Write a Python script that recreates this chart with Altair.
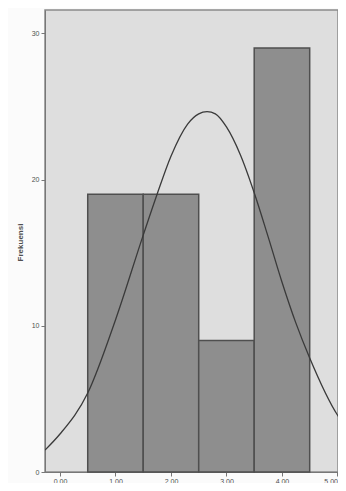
import altair as alt
import pandas as pd

# Histogram bins
bin_start = [0.5, 1.5, 2.5, 3.5]
bin_end = [1.5, 2.5, 3.5, 4.5]
counts = [19, 19, 9, 29]

# Normal curve points
curve_x = [-0.27, 0.0, 0.5, 1.0, 1.5, 1.75, 2.0, 2.3, 2.5, 2.65, 2.8, 3.0, 3.25, 3.5, 3.75, 4.0, 4.25, 4.5, 5.0, 5.15]
curve_y = [1.5, 2.6, 5.4, 10.4, 16.2, 19.0, 21.6, 23.8, 24.5, 24.65, 24.5, 23.6, 21.7, 19.1, 16.1, 13.0, 10.2, 7.8, 3.9, 3.1]

x_ticks = [0, 1, 2, 3, 4, 5]
y_ticks = [0, 10, 20, 30]

bars_df = pd.DataFrame({"start": bin_start, "end": bin_end, "count": counts})
curve_df = pd.DataFrame({"x": curve_x, "y": curve_y})

xscale = alt.Scale(domain=[-0.27, 5.01], nice=False, zero=False)
yscale = alt.Scale(domain=[0, 31.6], nice=False)

xaxis = alt.Axis(values=x_ticks, format=".2f", title=None, grid=False,
                 labelFont="Liberation Sans", labelFontSize=7, labelColor="#505050",
                 tickColor="#777777", tickSize=4, domainColor="#777777", labelPadding=1,
                 labelOverlap=False, labelBound=False, labelFlush=True)
yaxis = alt.Axis(values=y_ticks, title="Frekuensi", grid=False,
                 labelFont="Liberation Sans", labelFontSize=7, labelColor="#505050",
                 tickColor="#777777", tickSize=4, domainColor="#777777", labelPadding=2,
                 titleFont="Liberation Sans", titleFontSize=8, titleFontWeight="bold",
                 titleColor="#505050", titleX=-21, titleY=232, titleAlign="center")

bars = alt.Chart(bars_df).mark_rect(
    fill="#8e8e8e", stroke="#4f4f4f", strokeWidth=1.5
).encode(
    x=alt.X("start:Q", scale=xscale, axis=xaxis),
    x2="end:Q",
    y=alt.Y("count:Q", scale=yscale, axis=yaxis),
    y2=alt.datum(0),
)

curve = alt.Chart(curve_df).mark_line(
    color="#3a3a3a", strokeWidth=1.3, interpolate="monotone", clip=True
).encode(
    x=alt.X("x:Q", scale=xscale),
    y=alt.Y("y:Q", scale=yscale),
)

chart = alt.layer(bars, curve).properties(
    width=293, height=462,
    autosize=alt.AutoSizeParams(type="none"),
    padding={"left": 37, "top": 2, "right": 0, "bottom": 11},
    background="#fbfbfb",
).configure_view(
    fill="#dedede", stroke="#8a8a8a", strokeWidth=1.5
)

chart.save("out.html", embed_options={"renderer": "svg", "actions": False})
